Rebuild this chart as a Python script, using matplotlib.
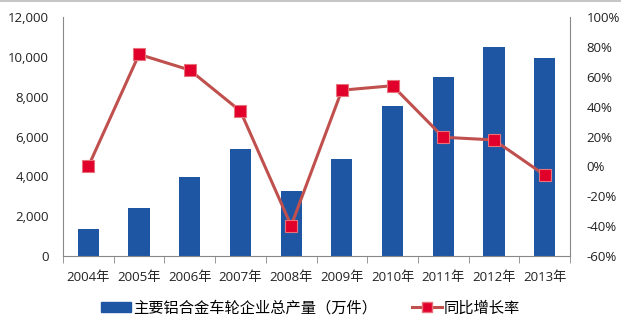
import numpy as np
import matplotlib.pyplot as plt
from matplotlib.lines import Line2D
from matplotlib.ticker import FuncFormatter

plt.rcParams['font.family'] = ['Open Sans', 'Noto Sans CJK SC', 'DejaVu Sans']

years = ['2004年', '2005年', '2006年', '2007年', '2008年',
         '2009年', '2010年', '2011年', '2012年', '2013年']
output = [1380, 2400, 3950, 5370, 3250, 4890, 7540, 8980, 10500, 9930]
growth = [0.0, 75.0, 64.5, 37.0, -39.7, 51.0, 54.0, 19.5, 17.7, -5.8]

fig = plt.figure(figsize=(6.21, 3.28), dpi=100)
ax = fig.add_axes([63 / 621, 1 - 256 / 328, (570 - 63) / 621, (256 - 17) / 328])
x = np.arange(len(years))

ax.bar(x, output, width=0.42, color='#1F56A4', zorder=2)
ax.set_xlim(-0.5, len(years) - 0.5)
ax.set_ylim(0, 12000)
ax.set_yticks(np.arange(0, 12001, 2000))
ax.yaxis.set_major_formatter(FuncFormatter(lambda v, p: f'{int(v):,}'))
ax.set_xticks(x)
ax.set_xticklabels(years)
ax.set_xticks(np.arange(-0.5, len(years), 1), minor=True)
ax.tick_params(axis='x', which='major', length=0, pad=11, labelsize=9.5, colors='#222222')
ax.tick_params(axis='x', which='minor', length=5, color='#888888')
ax.tick_params(axis='y', length=0, pad=10, labelsize=9.5, colors='#222222')
for s in ['top', 'right']:
    ax.spines[s].set_visible(False)
for s in ['left', 'bottom']:
    ax.spines[s].set_color('#888888')

ax2 = ax.twinx()
ax2.plot(x, growth, color='#C0504D', lw=2.2, marker='s', markersize=9,
         markerfacecolor='#E0002A', markeredgecolor='#E8707A', markeredgewidth=0.8, zorder=3)
ax2.set_ylim(-60, 100)
ax2.set_yticks(np.arange(-60, 101, 20))
ax2.yaxis.set_major_formatter(FuncFormatter(lambda v, p: f'{int(v)}%'))
ax2.tick_params(axis='y', length=0, pad=12, labelsize=9.5, colors='#222222')
for s in ['top', 'left', 'bottom']:
    ax2.spines[s].set_visible(False)
ax2.spines['right'].set_color('#888888')

# legend row under the chart
handles = [plt.Rectangle((0, 0), 1, 1, color='#1F56A4'),
           Line2D([0], [0], color='#C0504D', lw=2.2, marker='s', markersize=7,
                  markerfacecolor='#E0002A', markeredgecolor='#E8707A')]
fig.legend(handles, ['主要铝合金车轮企业总产量（万件）', '同比增长率'],
           loc='center', bbox_to_anchor=(0.5, 1 - 308 / 328), ncol=2, frameon=False,
           handlelength=1.95, handleheight=0.55, handletextpad=0.15, columnspacing=2.3,
           borderaxespad=0, prop={'family': ['Noto Sans CJK SC', 'DejaVu Sans'], 'size': 11})

fig.add_artist(Line2D([0, 1], [0.997, 0.997], color='#BBBBBB', lw=1.2, transform=fig.transFigure))

fig.savefig('out.png', dpi=100)
